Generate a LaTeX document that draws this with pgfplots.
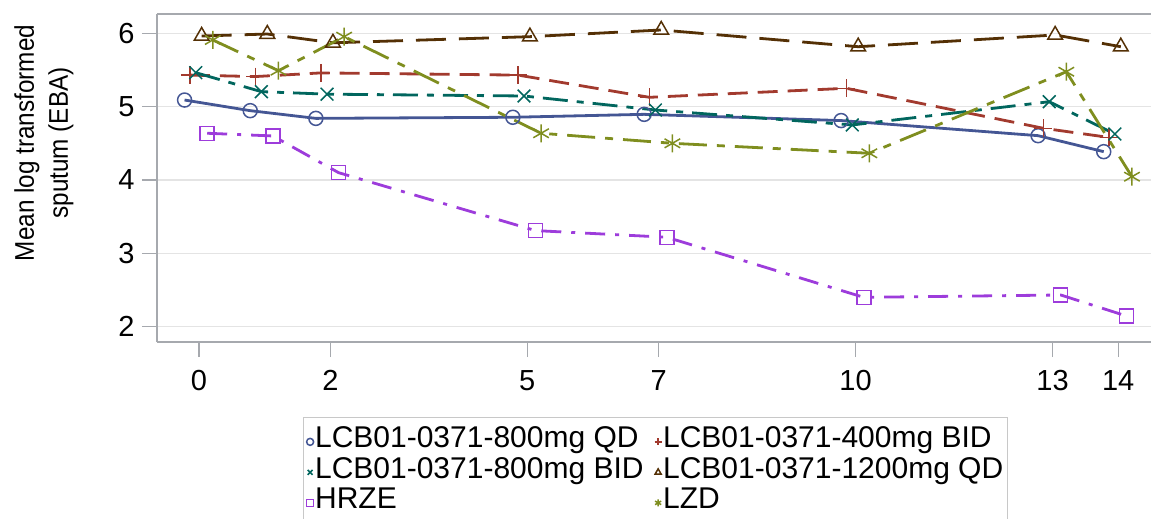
\documentclass[border=0pt]{standalone}
\usepackage{fontspec}
\setmainfont{Liberation Sans}
\newfontfamily\tickfont{Liberation Sans}
\newfontfamily\labfont{Liberation Sans}[FakeStretch=0.9]
\usepackage{pgfplots}
\pgfplotsset{compat=1.18}

\definecolor{cQD}{HTML}{445694}
\definecolor{cBID}{HTML}{A23A2E}
\definecolor{cBIDb}{HTML}{01665E}
\definecolor{cQDb}{HTML}{543005}
\definecolor{cHRZE}{HTML}{9D3CDB}
\definecolor{cLZD}{HTML}{7F8E1F}
\definecolor{frame}{HTML}{A6A9AE}
\definecolor{gridc}{HTML}{E4E4E4}
\definecolor{legframe}{HTML}{C8C8C8}

\begin{document}
\begin{tikzpicture}
\begin{axis}[
  scale only axis,
  width=994pt, height=328pt,
  xmin=-0.64, xmax=14.5,
  ymin=1.791, ymax=6.263,
  axis x line=box, axis y line=left,
  y axis line style={-},
  axis line style={draw=frame, line width=1.5pt},
  xtick pos=left, ytick pos=left,
  tick align=outside,
  major tick length=15pt,
  tick style={draw=frame, line width=1.3pt},
  xtick={0,2,5,7,10,13,14},
  ytick={2,3,4,5,6},
  ymajorgrids,
  grid style={draw=gridc, line width=1.5pt},
  /pgf/number format/assume math mode=true,
  xticklabel style={font=\tickfont\fontsize{29}{29}\selectfont, yshift=-10pt},
  yticklabel style={font=\tickfont\fontsize{29}{29}\selectfont, xshift=-4pt},
  ylabel={Mean log transformed\\sputum (EBA)},
  every axis y label/.style={at={(axis description cs:-0.1137,0.607)},
    rotate=90, anchor=center, align=center,
    font=\labfont\fontsize{27}{34}\selectfont},
  legend columns=2,
  legend cell align=left,
  legend style={at={(axis description cs:0.1469,-0.2287)}, anchor=north west,
    draw=legframe, line width=1.2pt,
    inner xsep=3pt, inner ysep=9pt,
    font=\fontsize{30}{31}\selectfont,
    nodes={inner xsep=1.5pt, inner ysep=0pt, text height=21pt, text depth=9.5pt},
    /tikz/every even column/.append style={column sep=9.5pt}},
  legend image code/.code={\draw[mark repeat=2,mark phase=2,#1]
    plot coordinates {(0pt,0pt)(4pt,0pt)(8pt,0pt)};},
  legend image post style={only marks, mark size=3.5pt},
  every axis plot/.append style={line width=2.8pt},
]
% LCB01-0371-800mg QD
\addplot[cQD, solid, mark=o, mark size=7pt, mark options={solid, line width=1.5pt}]
  coordinates {(-0.22,5.09)(0.78,4.945)(1.78,4.84)(4.78,4.855)(6.78,4.895)(9.78,4.81)(12.78,4.604)(13.78,4.386)};
\addlegendentry{LCB01-0371-800mg QD}
% LCB01-0371-400mg BID
\addplot[cBID, dash pattern=on 20pt off 10pt, mark=+, mark size=9pt, mark options={solid, line width=1.5pt}]
  coordinates {(-0.14,5.43)(0.86,5.41)(1.86,5.46)(4.86,5.43)(6.86,5.127)(9.86,5.25)(12.86,4.705)(13.86,4.58)};
\addlegendentry{LCB01-0371-400mg BID}
% LCB01-0371-800mg BID
\addplot[cBIDb, dash pattern=on 25pt off 9pt on 7pt off 9pt, mark=x, mark size=9pt, mark options={solid, line width=1.5pt}]
  coordinates {(-0.05,5.463)(0.95,5.204)(1.95,5.17)(4.95,5.145)(6.95,4.954)(9.95,4.75)(12.95,5.067)(13.95,4.627)};
\addlegendentry{LCB01-0371-800mg BID}
% LCB01-0371-1200mg QD
\addplot[cQDb, dash pattern=on 30pt off 13pt, mark=triangle, mark size=8.5pt, mark options={solid, line width=1.5pt}]
  coordinates {(0.04,5.963)(1.04,5.99)(2.04,5.87)(5.04,5.954)(7.04,6.045)(10.04,5.817)(13.04,5.977)(14.04,5.817)};
\addlegendentry{LCB01-0371-1200mg QD}
% HRZE
\addplot[cHRZE, dash pattern=on 20pt off 10pt on 4pt off 10pt, mark=square, mark size=7pt, mark options={solid, line width=1.5pt}]
  coordinates {(0.125,4.637)(1.125,4.6)(2.125,4.10)(5.125,3.31)(7.125,3.219)(10.125,2.40)(13.125,2.432)(14.125,2.146)};
\addlegendentry{HRZE}
% LZD
\addplot[cLZD, dash pattern=on 28pt off 10pt on 8pt off 10pt, mark=asterisk, mark size=9pt, mark options={solid, line width=1.5pt}]
  coordinates {(0.21,5.909)(1.21,5.49)(2.21,5.954)(5.21,4.637)(7.21,4.50)(10.21,4.364)(13.21,5.476)(14.21,4.045)};
\addlegendentry{LZD}
\end{axis}
\pgfresetboundingbox
\path[use as bounding box] (-157pt,-177pt) rectangle (994pt,342pt);
\end{tikzpicture}
\end{document}
